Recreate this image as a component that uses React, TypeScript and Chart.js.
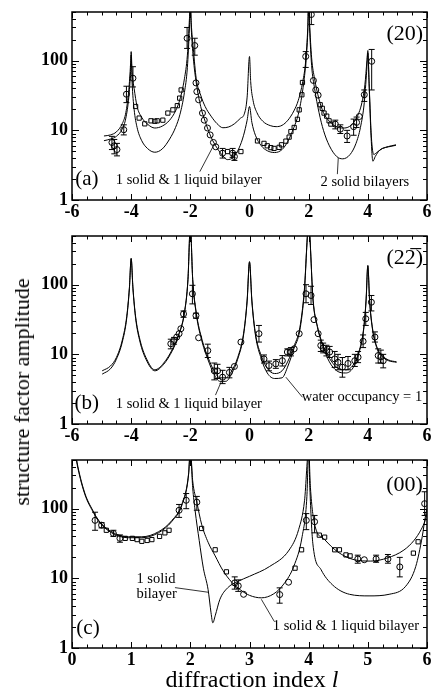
import React, { useEffect, useRef } from "react";
import { Chart, registerables } from "chart.js";
Chart.register(...registerables);

const FONT = '"Liberation Serif", "Times New Roman", serif';

// ---------- Panel (a): (20) ----------
const aSolidLiquidL = [-4.92,-4.7,-4.5,-4.3,-4.18,-4.08,-4.02,-4.0,-3.97,-3.9,-3.8,-3.65,-3.45,-3.2,-2.95,-2.7,-2.5,-2.35,-2.2,-2.1,-2.03,-2.0,-1.97,-1.9,-1.8,-1.65,-1.5,-1.3,-1.1,-0.9,-0.75,-0.55,-0.35,-0.2,-0.08,0,0.08,0.2,0.4,0.6,0.85,1.1,1.3,1.5,1.65,1.8,1.9,1.97,2.0,2.03,2.1,2.2,2.35,2.5,2.7,2.95,3.2,3.45,3.65,3.8,3.9,3.97,4.0,4.04,4.1,4.17,4.25,4.4,4.6,4.8,4.95];
const aSolidLiquidV = [8.3,8.6,9.5,12.5,18,38,90,135,70,40,22,15.5,12.3,10.8,11.5,14,19,28,55,120,400,700,300,110,48,22,13.5,8,5.6,4.3,3.8,4.1,5.6,8.5,14,22,13,8.5,6,5.1,4.8,5.3,7,11,17,38,90,260,700,350,110,55,28,18,13.5,11.2,10.8,12,16,25,45,100,140,50,10,3.6,4.2,5.2,5.7,6,6.2];
const aTwoSolidL = [-4.92,-4.7,-4.5,-4.3,-4.18,-4.08,-4.02,-4.0,-3.97,-3.9,-3.8,-3.65,-3.45,-3.2,-2.95,-2.7,-2.5,-2.35,-2.2,-2.1,-2.03,-2.0,-1.97,-1.9,-1.8,-1.65,-1.5,-1.3,-1.1,-0.9,-0.7,-0.5,-0.3,-0.18,-0.08,0,0.04,0.12,0.25,0.45,0.7,0.9,1.1,1.3,1.5,1.65,1.8,1.9,1.97,2.0,2.03,2.1,2.2,2.35,2.5,2.7,2.95,3.15,3.4,3.6,3.75,3.88,3.96,4.0,4.05,4.12,4.2,4.3,4.5,4.7,4.95];
const aTwoSolidV = [7.1,7.5,8.2,10.5,15,30,70,120,50,20,11,7.2,5.5,4.85,5.4,7.5,11,17,35,80,300,700,350,150,55,32,22,16,12.5,10.9,11.2,12.5,15,17,30,115,50,27,18,13.5,11.7,11.3,11.8,14,19,27,50,100,300,700,300,85,40,18,10,6,4.2,3.9,4.5,6.5,11,25,70,130,40,8,4.5,4.8,5.5,5.8,6.1];
const aCircleL = [-4.65,-4.57,-4.48,-4.25,-4.16,-3.94,-2.11,-1.85,-1.81,-1.78,-1.72,-1.59,-1.53,-1.42,-1.33,-1.22,-1.14,-0.91,-0.57,-0.51,1.9,2.09,2.16,2.24,2.32,2.9,3.07,3.3,3.52,3.62,3.71,3.88,4.13];
const aCircleV = [6.7,6.0,5.3,10.2,33,56,210,165,48,36,27.5,17.7,14,10.8,8.6,6.7,5.8,4.7,4.7,4.2,115,460,52,38,32,12.3,10.4,8.3,11.3,13,15.8,32.4,98];
const aCircleLo = [5.3,4.6,4.3,8.6,25,42,150,120,null,null,null,null,null,null,null,null,null,4.0,4.1,3.7,80,330,null,null,null,10.5,9,6.7,8.5,11,null,26,38];
const aCircleHi = [8.2,7.4,6.5,12,43,82,300,210,null,null,null,null,null,null,null,null,null,5.5,5.5,4.8,135,520,null,null,null,14,12,10,14.5,15.5,null,38,145];
const aSquareL = [-3.85,-3.73,-3.54,-3.33,-3.2,-3.12,-2.93,-2.76,-2.59,-2.44,-2.36,-2.31,-0.74,-0.29,0.27,0.49,0.6,0.72,0.83,1.0,1.08,1.23,1.34,1.4,1.51,1.62,1.68,1.77,1.79,2.39,2.46,2.52,2.61,2.69,2.75];
const aSquareV = [22,15,12.4,13.7,13.5,13.7,14,17.7,19.7,22.6,29,38,4.96,4.96,7.05,6.5,6.0,5.65,5.5,5.7,6.2,7.0,8.0,9.6,11,14.4,19.7,32.4,48.6,23.3,20.7,17.7,16,13.7,12.3];

// ---------- Panel (b): (2 2bar) ----------
const bSolidLiquidL = [-4.98,-4.7,-4.5,-4.3,-4.15,-4.06,-4.0,-3.94,-3.85,-3.7,-3.5,-3.2,-2.9,-2.6,-2.4,-2.2,-2.08,-2.0,-1.92,-1.8,-1.6,-1.4,-1.2,-1.0,-0.8,-0.6,-0.4,-0.2,-0.08,0,0.08,0.2,0.4,0.6,0.85,1.1,1.3,1.5,1.7,1.85,2.0,2.15,2.3,2.5,2.7,2.95,3.25,3.5,3.7,3.85,3.94,4.0,4.06,4.15,4.3,4.5,4.7,4.97];
const bSolidLiquidV = [5.8,6.8,9,16,35,90,240,90,35,16,9,6.0,7.5,12,19,40,120,700,120,40,16,9,5.8,4.6,4.6,5.8,9,20,60,215,60,20,9.5,6.3,5.3,5.8,8,13,24,80,700,60,25,13,8.8,6.5,6.0,7,11,22,60,190,60,25,13,9.5,8.3,7.8];
const bWaterL = bSolidLiquidL;
const bWaterV = [5.2,6.2,8.5,15,33,88,235,88,33,15,8.5,5.8,7.2,11.5,18.5,39,118,700,118,38,15,8.3,5.2,4.1,4.1,5.3,8.5,19,58,210,58,19,8.6,5.4,4.5,4.6,6.8,12,22,75,700,58,24,12.5,7.8,5.8,5.4,6.4,10.5,21,58,185,58,24,12.5,9.2,8.1,7.7];
const bCircleL = [-2.66,-2.55,-2.46,-2.38,-2.32,-2.23,-1.93,-1.81,-1.72,-1.41,-1.19,-1.08,-0.91,-0.68,-0.51,-0.29,0.32,0.49,0.66,0.89,1.11,1.28,1.4,1.51,1.68,1.91,2.08,2.18,2.32,2.41,2.49,2.6,2.71,2.88,2.99,3.14,3.33,3.56,3.67,3.84,3.93,4.12,4.24,4.35,4.44,4.52];
const bCircleV = [14.2,15.8,17.7,19.8,23.3,38,74,36,17.3,11.3,5.8,5.8,4.7,5.5,6.7,15,19.8,8.6,6.9,7.3,8.1,10.8,10.8,12,19.8,74,70,31.5,19.8,13.4,12.3,11.3,10.8,8.6,7.7,6.55,7.4,8.1,9.1,15.4,32.4,56,17.7,9.6,9.2,8.1];
const bCircleLo = [12,14,null,null,null,34,53,33,null,9,4.3,4.5,3.8,4.6,null,null,15,7.5,5.8,6.3,6.8,9.5,9.5,null,null,55,52,null,null,11,10.5,9.5,9,6.5,6,4.7,6,6.7,7.6,12.5,26,42,15,7.5,7.5,6.4];
const bCircleHi = [16.5,17.5,null,null,null,42,98,39,null,14,7.5,7.2,5.9,6.5,null,null,26,9.8,8,8.4,9.6,12,12.5,null,null,100,95,null,null,16,14.5,13.5,13,11,10,9,9.3,10,11,19,40,70,21,12,11.5,10];

// ---------- Panel (c): (00) ----------
const cOneSolidL = [0.05,0.1,0.22,0.35,0.45,0.67,0.95,1.18,1.46,1.69,1.86,1.97,2.0,2.04,2.08,2.15,2.22,2.3,2.35,2.38,2.42,2.5,2.63,2.8,3.0,3.34,3.67,3.83,3.93,4.0,4.02,4.07,4.21,4.4,4.69,5.02,5.36,5.64,5.81,5.92,5.97,6.0];
const cOneSolidV = [700,400,164,95,68,46.6,39.5,39.5,46.6,68,118,315,700,200,95,35,14,6.9,3.2,2.3,2.9,5,7.3,9.0,10.7,14.8,25.5,50,130,700,200,32,13.3,8.1,5.9,5.6,5.9,7.7,14.8,40,75,100];
const cSolidLiquidL = [0.05,0.1,0.22,0.35,0.45,0.67,0.95,1.18,1.46,1.69,1.86,1.97,2.0,2.04,2.11,2.19,2.3,2.42,2.55,2.7,2.85,3.0,3.2,3.41,3.58,3.75,3.89,3.97,4.0,4.03,4.1,4.27,4.49,4.77,5.05,5.33,5.61,5.78,5.9,5.97,6.0];
const cSolidLiquidV = [650,380,158,92,66,45,38.3,38.3,45,66,114,305,700,250,124,60,33,21,13,8.8,6.8,5.7,5.25,6.0,8.3,15,40,150,700,200,60,36,24,18.5,17.7,19.6,25.5,35,50,68,85];
const cCircleL = [0.39,0.5,0.7,0.81,1.81,1.93,2.11,2.75,2.81,2.9,3.51,3.66,3.96,4.1,4.83,4.94,5.14,5.34,5.54,5.96];
const cCircleV = [68,58,44,37.5,95,132,124,8.6,7.8,5.9,5.85,8.8,68,65,19,18.5,19,19,14.6,118];
const cCircleLo = [49,53,40,33,75,100,95,7,6.5,null,4.4,null,50,45,16.5,null,17,16.5,10.5,80];
const cCircleHi = [89,63,49,42,115,165,150,10.5,9.5,null,7.3,null,85,80,21.5,null,21.5,22,20,175];
const cSquareL = [0.58,0.9,1.02,1.1,1.18,1.27,1.35,1.48,1.57,1.64,2.19,2.42,2.61,3.77,3.88,4.18,4.27,4.44,4.52,4.63,4.7,5.77,5.85];
const cSquareV = [49,37.5,37.5,36,34,35,36,40,45,49,52,25.7,12.4,14,25.7,41.7,39,25.7,25.7,21.7,21,23,33.5];

// ---------- Axes ----------
const abXTicks = [-6, -4, -2, 0, 2, 4, 6];
const cXTicks = [0, 1, 2, 3, 4, 5, 6];
const yTicks = [1, 10, 100];
const Y_MIN = 1;
const Y_MAX = 500;

function pts(L: number[], V: number[]) {
  return L.map((x, i) => ({ x, y: V[i] }));
}
function lineDs(L: number[], V: number[]) {
  return {
    data: pts(L, V), showLine: true, pointRadius: 0, borderColor: "#000", borderWidth: 1,
    cubicInterpolationMode: "monotone", fill: false, order: 2,
  };
}
function markDs(L: number[], V: number[], Lo: any[] | null, Hi: any[] | null, style: string) {
  return {
    data: pts(L, V), showLine: false, pointStyle: style, pointRadius: 3,
    borderColor: "#000", borderWidth: 1, backgroundColor: "rgba(255,255,255,0)",
    pointBackgroundColor: "rgba(255,255,255,0)", pointBorderColor: "#000", pointBorderWidth: 1,
    errLo: Lo, errHi: Hi, order: 1,
  };
}

function decoPlugin(spec: any) {
  return {
    id: "deco",
    afterDraw(chart: any) {
      const { ctx, chartArea: a } = chart;
      const x = chart.scales.x, y = chart.scales.y;
      ctx.save();
      // error bars
      ctx.save();
      ctx.beginPath();
      ctx.rect(a.left, a.top, a.right - a.left, a.bottom - a.top);
      ctx.clip();
      ctx.strokeStyle = "#000";
      ctx.lineWidth = 1;
      chart.data.datasets.forEach((ds: any) => {
        if (!ds.errLo) return;
        ds.data.forEach((p: any, i: number) => {
          const lo = ds.errLo[i], hi = ds.errHi[i];
          if (lo == null || hi == null) return;
          const px = x.getPixelForValue(p.x);
          const y1 = y.getPixelForValue(lo), y2 = y.getPixelForValue(hi);
          ctx.beginPath();
          ctx.moveTo(px, y1); ctx.lineTo(px, y2);
          ctx.moveTo(px - 3, y1); ctx.lineTo(px + 3, y1);
          ctx.moveTo(px - 3, y2); ctx.lineTo(px + 3, y2);
          ctx.stroke();
        });
      });
      ctx.restore();
      // frame
      ctx.strokeStyle = "#000";
      ctx.lineWidth = 1.5;
      ctx.strokeRect(a.left, a.top, a.right - a.left, a.bottom - a.top);
      // y ticks (both sides, inward)
      ctx.lineWidth = 1;
      ctx.beginPath();
      for (let k = 0; k < 3; k++) {
        for (let m = 1; m <= 9; m++) {
          const v = m * Math.pow(10, k);
          if (v < Y_MIN || v > Y_MAX) continue;
          const py = Math.round(y.getPixelForValue(v)) + 0.5;
          const len = m === 1 ? 7 : 4;
          ctx.moveTo(a.left, py); ctx.lineTo(a.left + len, py);
          ctx.moveTo(a.right, py); ctx.lineTo(a.right - len, py);
        }
      }
      // x ticks (top and bottom, inward)
      for (let v = spec.xMin; v <= spec.xMax + 1e-9; v += spec.xStep) {
        const px = Math.round(x.getPixelForValue(v)) + 0.5;
        const major = spec.xTicks.some((t: number) => Math.abs(t - v) < 1e-6);
        const len = major ? 6 : 3.5;
        ctx.moveTo(px, a.bottom); ctx.lineTo(px, a.bottom - len);
        ctx.moveTo(px, a.top); ctx.lineTo(px, a.top + len);
      }
      ctx.stroke();
      // pointer lines
      ctx.lineWidth = 0.8;
      spec.pointers.forEach((p: any) => {
        ctx.beginPath();
        ctx.moveTo(x.getPixelForValue(p.l1), y.getPixelForValue(p.v1));
        ctx.lineTo(x.getPixelForValue(p.l2), y.getPixelForValue(p.v2));
        ctx.stroke();
      });
      // texts
      ctx.fillStyle = "#000";
      ctx.textAlign = "center";
      ctx.textBaseline = "middle";
      spec.texts.forEach((t: any) => {
        ctx.font = `${t.size}px ${FONT}`;
        ctx.fillText(t.s, x.getPixelForValue(t.l), y.getPixelForValue(t.v));
      });
      // x title
      if (spec.xTitle) {
        const t = spec.xTitle;
        ctx.textAlign = "left";
        ctx.font = `${t.size}px ${FONT}`;
        const w1 = ctx.measureText(t.main).width;
        ctx.font = `italic ${t.size}px ${FONT}`;
        const w2 = ctx.measureText(t.ital).width;
        const x0 = t.cx - (w1 + w2) / 2;
        ctx.font = `${t.size}px ${FONT}`;
        ctx.fillText(t.main, x0, t.cy);
        ctx.font = `italic ${t.size}px ${FONT}`;
        ctx.fillText(t.ital, x0 + w1, t.cy);
      }
      ctx.restore();
    },
  };
}

function makeChart(canvas: HTMLCanvasElement, spec: any) {
  const tickFont = { family: FONT, size: 18, weight: "bold" as const };
  return new Chart(canvas, {
    type: "scatter",
    data: { datasets: spec.datasets },
    options: {
      animation: false,
      responsive: false,
      events: [],
      layout: { padding: { left: 0, right: 4, top: spec.top, bottom: 0 } },
      plugins: { legend: { display: false }, tooltip: { enabled: false }, title: { display: false } },
      scales: {
        x: {
          type: "linear", min: spec.xMin, max: spec.xMax,
          afterBuildTicks: (s: any) => { s.ticks = spec.xTicks.map((v: number) => ({ value: v })); },
          grid: { display: false, drawTicks: false }, border: { display: false },
          ticks: { color: "#000", font: tickFont, padding: 2, maxRotation: 0, autoSkip: false, callback: (v: any) => String(v) },
          afterFit: (s: any) => { s.height = spec.xAxisH; s.paddingLeft = 0; s.paddingRight = 0; },
        },
        y: {
          type: "logarithmic", min: Y_MIN, max: Y_MAX,
          afterBuildTicks: (s: any) => { s.ticks = yTicks.map((v) => ({ value: v })); },
          grid: { display: false, drawTicks: false }, border: { display: false },
          ticks: { color: "#000", font: tickFont, padding: 4, callback: (v: any) => String(v) },
          afterFit: (s: any) => { s.width = 72; s.paddingTop = 0; s.paddingBottom = 0; },
        },
      },
    } as any,
    plugins: [decoPlugin(spec)],
  });
}

function specA() {
  return {
    top: 12, xAxisH: 26, xMin: -6, xMax: 6, xStep: 0.5, xTicks: abXTicks,
    datasets: [
      lineDs(aSolidLiquidL, aSolidLiquidV),
      lineDs(aTwoSolidL, aTwoSolidV),
      markDs(aCircleL, aCircleV, aCircleLo, aCircleHi, "circle"),
      markDs(aSquareL, aSquareV, null, null, "rect"),
    ],
    texts: [
      { s: "(20)", l: 5.25, v: 240, size: 22 },
      { s: "(a)", l: -5.5, v: 1.94, size: 21 },
      { s: "1 solid & 1 liquid bilayer", l: -2.05, v: 1.94, size: 14.5 },
      { s: "2 solid bilayers", l: 3.9, v: 1.8, size: 14.5 },
    ],
    pointers: [
      { l1: -1.68, v1: 2.55, l2: -1.22, v2: 6.0 },
      { l1: 2.97, v1: 2.35, l2: 3.0, v2: 4.0 },
    ],
  };
}
function specB() {
  return {
    top: 10, xAxisH: 28, xMin: -6, xMax: 6, xStep: 0.5, xTicks: abXTicks,
    datasets: [
      lineDs(bSolidLiquidL, bSolidLiquidV),
      lineDs(bWaterL, bWaterV),
      markDs(bCircleL, bCircleV, bCircleLo, bCircleHi, "circle"),
    ],
    texts: [
      { s: "(22\u0305)", l: 5.25, v: 240, size: 22 },
      { s: "(b)", l: -5.5, v: 1.94, size: 21 },
      { s: "1 solid & 1 liquid bilayer", l: -2.05, v: 1.94, size: 14.5 },
      { s: "water occupancy = 1", l: 3.8, v: 2.45, size: 14.5 },
    ],
    pointers: [
      { l1: -1.15, v1: 2.6, l2: -0.95, v2: 4.1 },
      { l1: 1.79, v1: 2.42, l2: 1.23, v2: 4.7 },
    ],
  };
}
function specC() {
  return {
    top: 8, xAxisH: 42, xMin: 0, xMax: 6, xStep: 0.25, xTicks: cXTicks,
    datasets: [
      lineDs(cOneSolidL, cOneSolidV),
      lineDs(cSolidLiquidL, cSolidLiquidV),
      markDs(cCircleL, cCircleV, cCircleLo, cCircleHi, "circle"),
      markDs(cSquareL, cSquareV, null, null, "rect"),
    ],
    texts: [
      { s: "(00)", l: 5.62, v: 220, size: 22 },
      { s: "(c)", l: 0.27, v: 1.93, size: 21 },
      { s: "1 solid", l: 1.42, v: 9.7, size: 14.5 },
      { s: "bilayer", l: 1.43, v: 5.9, size: 14.5 },
      { s: "1 solid & 1 liquid bilayer", l: 4.63, v: 2.08, size: 14.5 },
    ],
    pointers: [
      { l1: 1.74, v1: 7.36, l2: 2.31, v2: 6.3 },
      { l1: 3.42, v1: 2.4, l2: 3.2, v2: 5.0 },
    ],
    xTitle: { main: "diffraction index ", ital: "l", size: 24, cx: 252, cy: 229 },
  };
}

export default function App() {
  const ra = useRef<HTMLCanvasElement>(null);
  const rb = useRef<HTMLCanvasElement>(null);
  const rc = useRef<HTMLCanvasElement>(null);
  useEffect(() => {
    const charts = [
      makeChart(ra.current!, specA()),
      makeChart(rb.current!, specB()),
      makeChart(rc.current!, specC()),
    ];
    return () => charts.forEach((c) => c.destroy());
  }, []);
  return (
    <div style={{ position: "fixed", left: 0, top: 0, width: 432, height: 690, background: "#fff", overflow: "hidden" }}>
      <canvas ref={ra} width={432} height={226} style={{ position: "absolute", left: 0, top: 0, display: "block" }} />
      <canvas ref={rb} width={432} height={226} style={{ position: "absolute", left: 0, top: 226, display: "block" }} />
      <canvas ref={rc} width={432} height={238} style={{ position: "absolute", left: 0, top: 452, display: "block" }} />
      <div
        style={{
          position: "absolute", left: 22, top: 392, transform: "translate(-50%, -50%) rotate(-90deg)",
          whiteSpace: "nowrap", fontFamily: FONT, fontSize: 22, lineHeight: 1, color: "#000",
        }}
      >
        structure factor amplitude
      </div>
    </div>
  );
}
